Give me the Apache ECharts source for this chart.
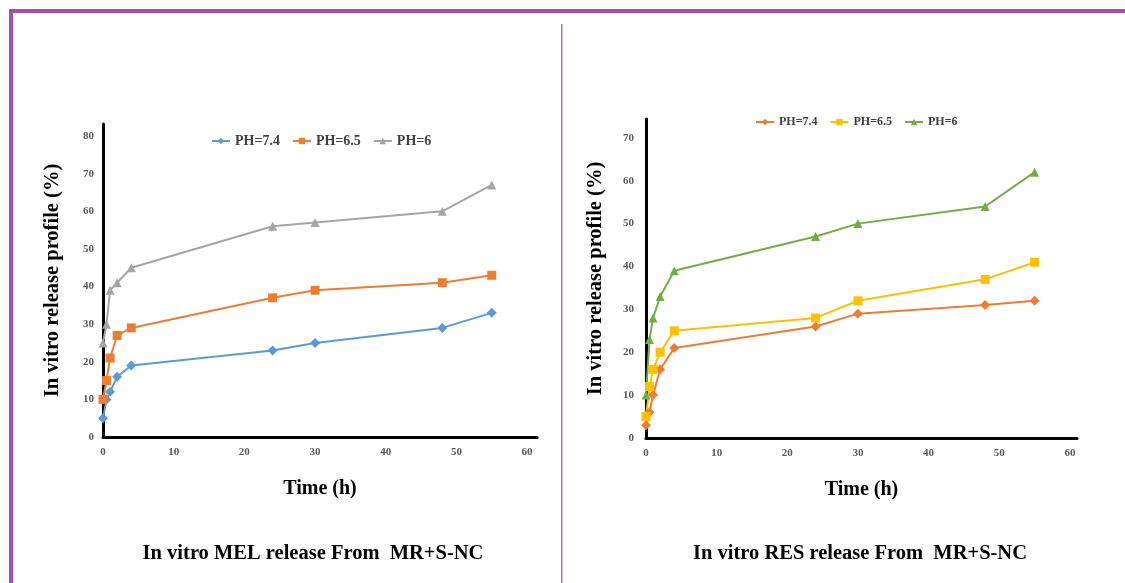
<!DOCTYPE html>
<html>
<head>
<meta charset="utf-8">
<script src="https://cdn.jsdelivr.net/npm/echarts@6/dist/echarts.min.js"></script>
<style>
  html, body { margin: 0; padding: 0; background: #fff; }
  .pane { position: absolute; left: 0; top: 0; width: 1125px; height: 583px; }
</style>
</head>
<body>
<div class="pane" id="melChart"></div>
<div class="pane" id="resChart"></div>
<script>
// sampling times (h), shared by both panels
const times = [0, 0.5, 1, 2, 4, 24, 30, 48, 55]
const xTicks = [0, 10, 20, 30, 40, 50, 60]

// MEL release (%)
const mel_ph74 = [5, 10, 12, 16, 19, 23, 25, 29, 33]
const mel_ph65 = [10, 15, 21, 27, 29, 37, 39, 41, 43]
const mel_ph6 = [25, 30, 39, 41, 45, 56, 57, 60, 67]
const melYTicks = [0, 10, 20, 30, 40, 50, 60, 70, 80]

// RES release (%)
const res_ph74 = [3, 6, 10, 16, 21, 26, 29, 31, 32]
const res_ph65 = [5, 12, 16, 20, 25, 28, 32, 37, 41]
const res_ph6 = [10, 23, 28, 33, 39, 47, 50, 54, 62]
const resYTicks = [0, 10, 20, 30, 40, 50, 60, 70]

const seriesNames = ['PH=7.4', 'PH=6.5', 'PH=6']

const serif = '"Liberation Serif", "DejaVu Serif", serif'
const pair = (ys) => times.map((t, i) => [t, ys[i]])

let makeSeries = (name, ys, symbol, color) => ({
  name: name,
  type: 'line',
  symbol: symbol,
  symbolSize: symbol === 'diamond' ? 10 : 9,
  lineStyle: { color: color, width: 2 },
  itemStyle: { color: color },
  data: pair(ys)
})

let axisLabelStyle = {
  fontFamily: serif,
  fontWeight: 'bold',
  fontSize: 11,
  color: '#595959'
}

let buildOption = (cfg) => ({
  animation: false,
  backgroundColor: cfg.bg,
  legend: {
    data: seriesNames,
    left: cfg.legendLeft,
    top: cfg.legendTop,
    itemWidth: 18,
    itemHeight: 8,
    itemGap: 12,
    textStyle: { fontFamily: serif, fontWeight: 'bold', fontSize: cfg.legendFont, color: '#404040' }
  },
  grid: {
    left: cfg.gridLeft,
    top: cfg.gridTop,
    width: cfg.gridWidth,
    height: cfg.gridHeight
  },
  xAxis: {
    type: 'value',
    min: 0,
    max: cfg.xMax,
    interval: 10,
    name: 'Time (h)',
    nameLocation: 'middle',
    nameGap: 42,
    nameTextStyle: { fontFamily: serif, fontWeight: 'bold', fontSize: 20, color: '#000' },
    axisLine: { show: true, lineStyle: { color: '#000', width: 3 } },
    axisTick: { show: false },
    splitLine: { show: false },
    axisLabel: Object.assign({}, axisLabelStyle, {
      margin: 10,
      formatter: (v) => xTicks.includes(v) ? String(v) : ''
    })
  },
  yAxis: {
    type: 'value',
    min: 0,
    max: cfg.yMax,
    interval: 10,
    name: 'In vitro release profile (%)',
    nameLocation: 'middle',
    nameGap: 40,
    nameTextStyle: { fontFamily: serif, fontWeight: 'bold', fontSize: 20.5, color: '#000' },
    axisLine: { show: true, lineStyle: { color: '#000', width: 3 } },
    axisTick: { show: false },
    splitLine: { show: false },
    axisLabel: Object.assign({}, axisLabelStyle, {
      margin: cfg.yLabelMargin,
      formatter: (v) => cfg.yTicks.includes(v) ? String(v) : ''
    })
  },
  graphic: cfg.graphic,
  series: cfg.series
})

let titleText = (text, x) => ({
  type: 'text',
  x: x,
  y: 554,
  style: {
    text: text,
    align: 'center',
    verticalAlign: 'middle',
    font: 'bold 20.5px ' + serif,
    fill: '#000'
  }
})

let melChart = echarts.init(document.getElementById('melChart'))
melChart.setOption(buildOption({
  bg: '#fff',
  legendLeft: 206,
  legendTop: 129,
  legendFont: 14,
  gridLeft: 103,
  gridTop: 124,
  gridWidth: 434,
  gridHeight: 313,
  xMax: 61.4,
  yMax: 83.2,
  yTicks: melYTicks,
  yLabelMargin: 9,
  graphic: [
    // purple frame
    { type: 'rect', shape: { x: 9, y: 9, width: 1116, height: 4 }, style: { fill: '#a64fa6' } },
    { type: 'rect', shape: { x: 9, y: 9, width: 4, height: 574 }, style: { fill: '#a64fa6' } },
    { type: 'rect', shape: { x: 561, y: 24, width: 1.5, height: 559 }, style: { fill: '#b870b8' } },
    titleText('In vitro MEL release From  MR+S-NC', 313)
  ],
  series: [
    makeSeries('PH=7.4', mel_ph74, 'diamond', '#5b9bd5'),
    makeSeries('PH=6.5', mel_ph65, 'rect', '#ed7d31'),
    makeSeries('PH=6', mel_ph6, 'triangle', '#a5a5a5')
  ]
}))

let resChart = echarts.init(document.getElementById('resChart'))
resChart.setOption(buildOption({
  bg: 'transparent',
  legendLeft: 750,
  legendTop: 111,
  legendFont: 12,
  gridLeft: 646,
  gridTop: 119,
  gridWidth: 431,
  gridHeight: 319,
  xMax: 61,
  yMax: 74.4,
  yTicks: resYTicks,
  yLabelMargin: 12,
  graphic: [
    titleText('In vitro RES release From  MR+S-NC', 860)
  ],
  series: [
    makeSeries('PH=7.4', res_ph74, 'diamond', '#ed7d31'),
    makeSeries('PH=6.5', res_ph65, 'rect', '#ffc000'),
    makeSeries('PH=6', res_ph6, 'triangle', '#70ad47')
  ]
}))
</script>
</body>
</html>
